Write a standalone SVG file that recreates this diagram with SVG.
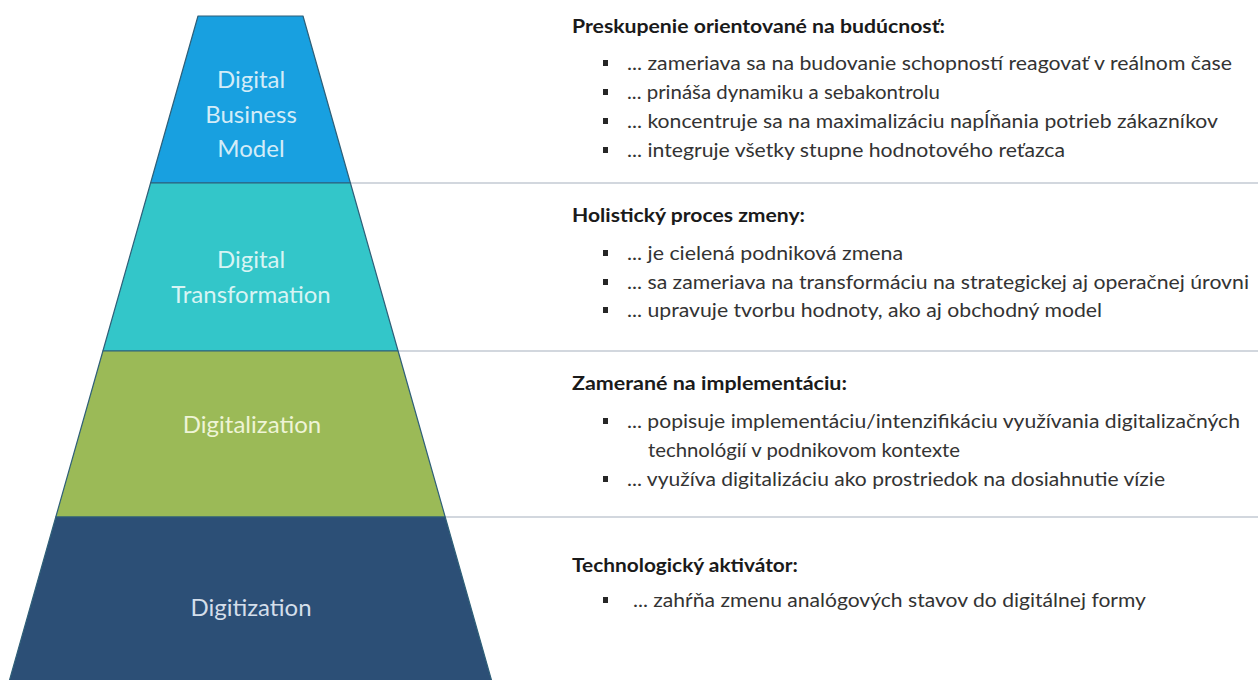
<svg xmlns="http://www.w3.org/2000/svg" width="1258" height="680" viewBox="0 0 1258 680">
<style>
.band{stroke:#2f5f78;stroke-width:1.2;stroke-linejoin:round}
.lbl{font-family:Lato,"Open Sans","Noto Sans",sans-serif;font-size:24px;text-anchor:middle}
.ttl{font-family:Lato,"Open Sans","Noto Sans",sans-serif;font-size:19.5px;font-weight:bold;fill:#1a1a1a}
.txt{font-family:Lato,"Open Sans","Noto Sans",sans-serif;font-size:19.5px;fill:#333333}
.sep{stroke:#d2d7de;stroke-width:2}
.bul{fill:#262626}
</style>
<rect width="1258" height="680" fill="#ffffff"/>
<g id="separators">
<line class="sep" x1="351" y1="183" x2="1258" y2="183"/>
<line class="sep" x1="399" y1="351" x2="1258" y2="351"/>
<line class="sep" x1="446" y1="517" x2="1258" y2="517"/>
</g>
<g id="band-business-model">
<polygon class="band" fill="#18a0e0" points="198,16 303,16 350.4,183 150.6,183"/>
<text class="lbl" fill="#d3ecf8" x="251" y="88">Digital</text>
<text class="lbl" fill="#d3ecf8" x="251" y="123">Business</text>
<text class="lbl" fill="#d3ecf8" x="251" y="157">Model</text>
</g>
<g id="band-transformation">
<polygon class="band" fill="#33c6c9" points="150.6,183 350.4,183 398.1,351 102.9,351"/>
<text class="lbl" fill="#d8f4f4" x="251" y="268">Digital</text>
<text class="lbl" fill="#d8f4f4" x="251" y="303">Transformation</text>
</g>
<g id="band-digitalization">
<polygon class="band" fill="#9bba57" points="102.9,351 398.1,351 445.2,517 55.8,517"/>
<text class="lbl" fill="#eef4d6" x="252" y="433">Digitalization</text>
</g>
<g id="band-digitization">
<polygon class="band" fill="#2c4f76" points="55.8,517 445.2,517 494.3,690 6.7,690"/>
<text class="lbl" fill="#d4deea" x="251" y="616">Digitization</text>
</g>
<g id="desc-business-model">
<text class="ttl" x="572" y="33" textLength="373" lengthAdjust="spacingAndGlyphs">Preskupenie orientované na budúcnosť:</text>
<rect class="bul" x="603" y="60" width="5" height="6"/>
<text class="txt" x="627" y="70" textLength="605" lengthAdjust="spacingAndGlyphs">... zameriava sa na budovanie schopností reagovať v reálnom čase</text>
<rect class="bul" x="603" y="89" width="5" height="6"/>
<text class="txt" x="627" y="99" textLength="313" lengthAdjust="spacingAndGlyphs">... prináša dynamiku a sebakontrolu</text>
<rect class="bul" x="603" y="118" width="5" height="6"/>
<text class="txt" x="627" y="128" textLength="591" lengthAdjust="spacingAndGlyphs">... koncentruje sa na maximalizáciu napĺňania potrieb zákazníkov</text>
<rect class="bul" x="603" y="147" width="5" height="6"/>
<text class="txt" x="627" y="157" textLength="438" lengthAdjust="spacingAndGlyphs">... integruje všetky stupne hodnotového reťazca</text>
</g>
<g id="desc-transformation">
<text class="ttl" x="572" y="222" textLength="233" lengthAdjust="spacingAndGlyphs">Holistický proces zmeny:</text>
<rect class="bul" x="603" y="250" width="5" height="6"/>
<text class="txt" x="627" y="260" textLength="276" lengthAdjust="spacingAndGlyphs">... je cielená podniková zmena</text>
<rect class="bul" x="603" y="279" width="5" height="6"/>
<text class="txt" x="627" y="289" textLength="622" lengthAdjust="spacingAndGlyphs">... sa zameriava na transformáciu na strategickej aj operačnej úrovni</text>
<rect class="bul" x="603" y="307" width="5" height="6"/>
<text class="txt" x="627" y="317" textLength="475" lengthAdjust="spacingAndGlyphs">... upravuje tvorbu hodnoty, ako aj obchodný model</text>
</g>
<g id="desc-digitalization">
<text class="ttl" x="572" y="390" textLength="275" lengthAdjust="spacingAndGlyphs">Zamerané na implementáciu:</text>
<rect class="bul" x="603" y="418" width="5" height="6"/>
<text class="txt" x="627" y="428" textLength="613" lengthAdjust="spacingAndGlyphs">... popisuje implementáciu/intenzifikáciu využívania digitalizačných</text>
<text class="txt" x="648" y="457" textLength="312" lengthAdjust="spacingAndGlyphs">technológií v podnikovom kontexte</text>
<rect class="bul" x="603" y="476" width="5" height="6"/>
<text class="txt" x="627" y="486" textLength="538" lengthAdjust="spacingAndGlyphs">... využíva digitalizáciu ako prostriedok na dosiahnutie vízie</text>
</g>
<g id="desc-digitization">
<text class="ttl" x="572" y="572" textLength="226" lengthAdjust="spacingAndGlyphs">Technologický aktivátor:</text>
<rect class="bul" x="603" y="597" width="5" height="6"/>
<text class="txt" x="633" y="607" textLength="513" lengthAdjust="spacingAndGlyphs">... zahŕňa zmenu analógových stavov do digitálnej formy</text>
</g>
</svg>
